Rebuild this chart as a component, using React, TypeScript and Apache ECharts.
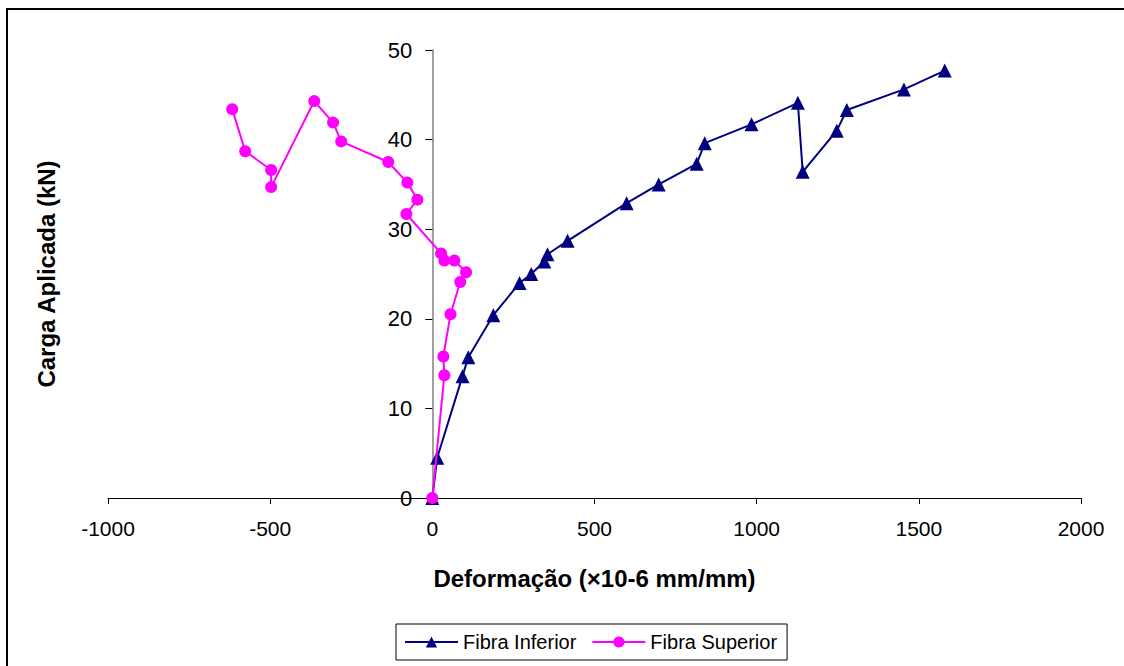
import React, { useEffect, useRef } from "react";
import * as echarts from "echarts";

const xTicks = { min: -1000, max: 2000, interval: 500 };
const yTicks = { min: 0, max: 50, interval: 10 };

const seriesNames = ["Fibra Inferior", "Fibra Superior"];

const inferiorStrain = [0, 15, 93, 111, 188, 269, 305, 345, 355, 417, 599, 698, 815, 840, 984, 1127, 1142, 1247, 1278, 1454, 1580];
const inferiorLoad = [0, 4.5, 13.6, 15.7, 20.4, 24.0, 25.0, 26.4, 27.2, 28.7, 32.9, 35.0, 37.3, 39.6, 41.7, 44.1, 36.4, 41.0, 43.3, 45.6, 47.7];

const superiorStrain = [0, 37, 34, 56, 86, 104, 68, 37, 27, -80, -46, -77, -136, -281, -306, -364, -497, -497, -577, -617];
const superiorLoad = [0, 13.7, 15.8, 20.5, 24.1, 25.2, 26.5, 26.5, 27.3, 31.7, 33.3, 35.2, 37.5, 39.8, 41.9, 44.3, 34.7, 36.6, 38.7, 43.4];

const xTitle = "Deformação (×10-6 mm/mm)";
const yTitle = "Carga Aplicada (kN)";

const FONT = "'Liberation Sans', Arial, sans-serif";

export default function App() {
  const ref = useRef<HTMLDivElement>(null);
  useEffect(() => {
    if (!ref.current) return;
    const chart = echarts.init(ref.current, null, { renderer: "svg" });
    const inf = inferiorStrain.map((x, i) => [x, inferiorLoad[i]]);
    const sup = superiorStrain.map((x, i) => [x, superiorLoad[i]]);
    const gridLeft = 108;
    const gridRight = 43;
    const plotWidth = 1124 - gridLeft - gridRight;
    const zeroOffset = ((0 - xTicks.min) / (xTicks.max - xTicks.min)) * plotWidth;
    chart.setOption({
      animation: false,
      backgroundColor: "#fff",
      textStyle: { fontFamily: FONT },
      grid: { left: gridLeft, right: gridRight, top: 50, bottom: 168, outerBoundsMode: "none", containLabel: false },
      graphic: [
        {
          type: "rect",
          shape: { x: 7, y: 9, width: 1200, height: 700 },
          style: { fill: "none", stroke: "#000", lineWidth: 2 },
          silent: true,
        },
      ],
      legend: {
        left: 396,
        top: 624,
        itemWidth: 53,
        itemHeight: 14,
        itemGap: 15,
        padding: [8, 10, 8, 8],
        borderColor: "#000",
        borderWidth: 1,
        borderRadius: 0,
        textStyle: { fontSize: 20, color: "#000", fontFamily: FONT },
        data: seriesNames,
      },
      xAxis: {
        type: "value",
        min: xTicks.min,
        max: xTicks.max,
        interval: xTicks.interval,
        name: xTitle,
        nameLocation: "middle",
        nameGap: 68,
        nameTextStyle: { fontSize: 24, fontWeight: "bold", color: "#000", fontFamily: FONT },
        axisLine: { onZero: true, lineStyle: { color: "#000", width: 1 } },
        axisTick: { show: true, length: 6, lineStyle: { color: "#000" } },
        axisLabel: { fontSize: 21, color: "#000", margin: 20, fontFamily: FONT, formatter: (v: number) => String(v) },
        splitLine: { show: false },
      },
      yAxis: {
        type: "value",
        min: yTicks.min,
        max: yTicks.max,
        interval: yTicks.interval,
        offset: -zeroOffset,
        name: yTitle,
        nameLocation: "middle",
        nameGap: 374,
        nameRotate: 90,
        nameTextStyle: { fontSize: 24, fontWeight: "bold", color: "#000", fontFamily: FONT },
        axisLine: { show: true, onZero: false, lineStyle: { color: "#808080", width: 1.5 } },
        axisTick: { show: true, length: 7, lineStyle: { color: "#000" } },
        axisLabel: { fontSize: 22, color: "#000", margin: 20, fontFamily: FONT, formatter: (v: number) => String(v) },
        splitLine: { show: false },
      },
      series: [
        {
          name: seriesNames[0],
          type: "line",
          data: inf,
          symbol: "triangle",
          symbolSize: 14,
          lineStyle: { color: "#000080", width: 2 },
          itemStyle: { color: "#000080" },
          z: 2,
        },
        {
          name: seriesNames[1],
          type: "line",
          data: sup,
          symbol: "circle",
          symbolSize: 12,
          lineStyle: { color: "#FF00FF", width: 2 },
          itemStyle: { color: "#FF00FF" },
          z: 3,
        },
      ],
    });
    return () => chart.dispose();
  }, []);
  return (
    <div
      ref={ref}
      style={{ position: "absolute", left: 0, top: 0, width: 1124, height: 666 }}
    />
  );
}
